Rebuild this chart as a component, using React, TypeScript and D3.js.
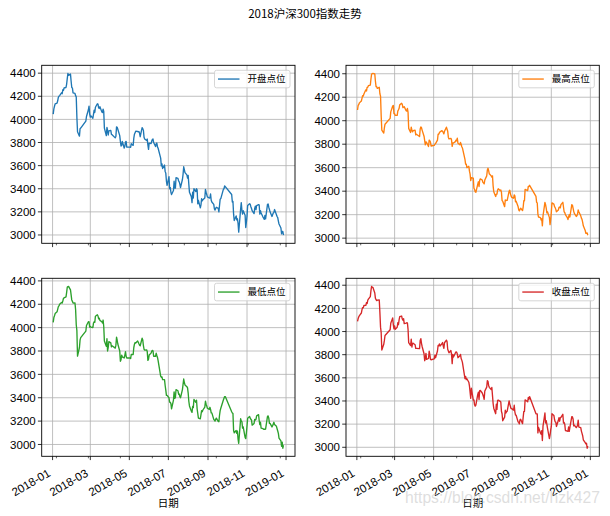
import React from 'react';
import * as d3 from 'd3';

// Weekdays on which the Shanghai/Shenzhen exchanges were closed in 2018
const closedWeekdays = [
  '2018-01-01', '2018-02-15', '2018-02-16', '2018-02-19', '2018-02-20', '2018-02-21',
  '2018-04-05', '2018-04-06', '2018-04-30', '2018-05-01', '2018-06-18', '2018-09-24',
  '2018-10-01', '2018-10-02', '2018-10-03', '2018-10-04', '2018-10-05', '2018-12-31',
];

// 开盘点位 (one value per trading day, Jan..Dec)
const openVals = [
  4045, 4091, 4114, 4134, 4141, 4161, 4190, 4200, 4206, 4230, 4222, 4256, 4252, 4272, 4276, 4306, 4355, 4398, 4381, 4392, 4330, 4276,
  4272, 4230, 4225, 4205, 4195, 4018, 3893, 3855, 3920, 3925, 3985, 4025, 4083, 4115, 4045,
  4020, 4030, 4010, 4045, 4080, 4060, 4105, 4135, 4132, 4100, 4095, 4110, 4065, 4060, 4088, 4068, 3925, 3860, 3930, 3905, 3865, 3900,
  3905, 3870, 3868, 3840, 3855, 3935, 3932, 3915, 3860, 3810, 3770, 3775, 3810, 3752, 3768, 3805, 3810, 3760,
  3760, 3758, 3790, 3775, 3838, 3872, 3885, 3898, 3895, 3892, 3895, 3880, 3850, 3928, 3920, 3905, 3845, 3830, 3818, 3830, 3780, 3740,
  3795, 3790, 3812, 3825, 3830, 3800, 3765, 3790, 3795, 3762, 3750, 3665, 3598, 3615, 3575, 3605, 3550, 3535, 3465, 3430,
  3505, 3400, 3410, 3370, 3350, 3385, 3465, 3405, 3405, 3495, 3490, 3468, 3460, 3440, 3410, 3480, 3525, 3590, 3565, 3540, 3520, 3492,
  3515, 3440, 3370, 3330, 3280, 3370, 3320, 3400, 3375, 3400, 3390, 3270, 3300, 3235, 3260, 3315, 3295, 3305, 3320, 3395, 3370, 3350, 3330,
  3320, 3322, 3355, 3300, 3285, 3265, 3225, 3215, 3230, 3240, 3230, 3200, 3255, 3310, 3315, 3395, 3400, 3425, 3418,
  3350, 3285, 3290, 3180, 3125, 3165, 3130, 3140, 3100, 3025, 3225, 3280, 3215, 3180, 3210, 3170, 3065, 3110,
  3165, 3255, 3270, 3265, 3245, 3230, 3210, 3185, 3230, 3250, 3220, 3255, 3262, 3260, 3180, 3210, 3190, 3155, 3145, 3135, 3170, 3140,
  3265, 3268, 3240, 3220, 3200, 3160, 3175, 3190, 3195, 3220, 3175, 3160, 3150, 3120, 3095, 3060, 3010, 3030, 3030, 2998,
];

// 最高点位
const highVals = [
  4091, 4131, 4138, 4152, 4168, 4190, 4213, 4210, 4227, 4263, 4253, 4283, 4284, 4298, 4303, 4355, 4397, 4400, 4403, 4398, 4336, 4290,
  4290, 4275, 4285, 4230, 4210, 4043, 3920, 3895, 3940, 3970, 4020, 4075, 4125, 4130, 4060,
  4060, 4045, 4045, 4082, 4093, 4105, 4135, 4148, 4140, 4112, 4115, 4120, 4085, 4082, 4105, 4072, 3935, 3900, 3945, 3920, 3905, 3915,
  3920, 3880, 3885, 3865, 3930, 3947, 3940, 3920, 3868, 3830, 3795, 3820, 3815, 3780, 3835, 3830, 3818, 3785,
  3790, 3800, 3805, 3835, 3885, 3885, 3898, 3905, 3915, 3910, 3900, 3888, 3910, 3945, 3928, 3910, 3860, 3845, 3850, 3835, 3782, 3810,
  3810, 3822, 3835, 3830, 3852, 3808, 3795, 3815, 3800, 3778, 3768, 3670, 3630, 3630, 3600, 3612, 3570, 3545, 3490, 3515,
  3510, 3425, 3415, 3395, 3390, 3460, 3480, 3440, 3492, 3505, 3495, 3475, 3470, 3462, 3495, 3530, 3580, 3595, 3575, 3548, 3530, 3520,
  3530, 3445, 3395, 3355, 3375, 3375, 3410, 3420, 3405, 3410, 3392, 3320, 3315, 3268, 3325, 3320, 3322, 3322, 3400, 3408, 3378, 3360, 3348,
  3340, 3368, 3360, 3310, 3315, 3270, 3240, 3232, 3245, 3255, 3235, 3265, 3320, 3318, 3415, 3405, 3440, 3440, 3450,
  3355, 3305, 3300, 3205, 3180, 3175, 3155, 3165, 3105, 3190, 3305, 3285, 3255, 3215, 3225, 3175, 3115, 3160,
  3220, 3300, 3290, 3268, 3260, 3245, 3225, 3240, 3262, 3265, 3258, 3285, 3305, 3265, 3225, 3218, 3200, 3175, 3158, 3180, 3200, 3180,
  3285, 3280, 3255, 3228, 3210, 3185, 3190, 3205, 3240, 3225, 3190, 3170, 3160, 3135, 3105, 3065, 3040, 3040, 3045, 3025,
];

// 最低点位
const lowVals = [
  4045, 4086, 4102, 4120, 4135, 4157, 4180, 4186, 4200, 4215, 4210, 4228, 4250, 4255, 4263, 4302, 4348, 4351, 4353, 4323, 4281, 4237,
  4225, 4210, 4212, 4155, 4025, 3975, 3756, 3830, 3895, 3915, 3970, 4018, 4050, 4050, 4005,
  4010, 4005, 4000, 4040, 4050, 4045, 4098, 4110, 4100, 4075, 4080, 4062, 4050, 4040, 4065, 4010, 3885, 3840, 3905, 3800, 3830, 3880,
  3870, 3835, 3845, 3825, 3850, 3918, 3892, 3860, 3800, 3712, 3725, 3765, 3750, 3740, 3765, 3795, 3755, 3740,
  3740, 3735, 3770, 3770, 3830, 3858, 3872, 3868, 3885, 3875, 3862, 3850, 3845, 3910, 3895, 3845, 3815, 3808, 3810, 3795, 3720, 3730,
  3765, 3782, 3798, 3805, 3802, 3755, 3755, 3782, 3762, 3745, 3718, 3585, 3575, 3578, 3555, 3555, 3505, 3465, 3420, 3420,
  3400, 3363, 3360, 3350, 3305, 3380, 3450, 3395, 3400, 3470, 3460, 3430, 3432, 3410, 3400, 3470, 3515, 3560, 3530, 3510, 3495, 3485,
  3440, 3370, 3330, 3285, 3275, 3325, 3315, 3385, 3360, 3380, 3305, 3265, 3225, 3220, 3255, 3290, 3280, 3295, 3320, 3370, 3345, 3330, 3310,
  3300, 3318, 3300, 3270, 3270, 3215, 3208, 3200, 3215, 3225, 3198, 3195, 3250, 3290, 3310, 3380, 3395, 3410, 3410,
  3280, 3270, 3265, 3120, 3100, 3120, 3095, 3115, 3045, 3010, 3220, 3200, 3195, 3140, 3150, 3060, 3050, 3100,
  3160, 3225, 3240, 3225, 3215, 3210, 3165, 3180, 3215, 3210, 3215, 3245, 3255, 3205, 3170, 3190, 3140, 3135, 3130, 3130, 3130, 3132,
  3240, 3245, 3225, 3180, 3180, 3150, 3160, 3175, 3190, 3170, 3155, 3135, 3115, 3095, 3055, 3030, 2985, 3020, 2968, 2995,
];

// 收盘点位
const closeVals = [
  4087, 4112, 4128, 4138, 4160, 4189, 4207, 4205, 4225, 4226, 4250, 4242, 4270, 4280, 4302, 4353, 4390, 4381, 4382, 4333, 4287, 4275,
  4267, 4271, 4273, 4163, 4038, 3990, 3840, 3890, 3923, 3966, 4016, 4071, 4118, 4058, 4023,
  4049, 4019, 4037, 4076, 4059, 4100, 4128, 4134, 4108, 4098, 4111, 4069, 4073, 4076, 4075, 4020, 3904, 3879, 3934, 3866, 3898, 3899,
  3886, 3854, 3854, 3852, 3923, 3938, 3898, 3871, 3808, 3748, 3766, 3811, 3760, 3767, 3830, 3805, 3761, 3756,
  3763, 3795, 3774, 3832, 3879, 3877, 3893, 3875, 3894, 3905, 3875, 3855, 3903, 3926, 3912, 3847, 3831, 3816, 3836, 3805, 3723, 3802,
  3780, 3815, 3824, 3822, 3806, 3774, 3791, 3802, 3767, 3753, 3734, 3593, 3613, 3584, 3592, 3562, 3530, 3476, 3423, 3510,
  3407, 3409, 3367, 3356, 3365, 3457, 3476, 3413, 3490, 3492, 3469, 3454, 3437, 3415, 3486, 3520, 3576, 3569, 3534, 3518, 3499, 3517,
  3448, 3378, 3338, 3290, 3372, 3327, 3405, 3407, 3397, 3391, 3311, 3290, 3229, 3261, 3320, 3296, 3307, 3312, 3400, 3373, 3354, 3334, 3334,
  3321, 3363, 3306, 3278, 3277, 3219, 3216, 3202, 3238, 3242, 3204, 3260, 3310, 3310, 3410, 3393, 3430, 3415, 3438,
  3290, 3289, 3288, 3124, 3171, 3124, 3113, 3143, 3059, 3183, 3296, 3210, 3230, 3200, 3165, 3075, 3105, 3150,
  3180, 3290, 3275, 3240, 3220, 3218, 3180, 3233, 3255, 3225, 3255, 3258, 3285, 3210, 3215, 3200, 3145, 3140, 3138, 3175, 3137, 3172,
  3265, 3262, 3245, 3185, 3190, 3170, 3178, 3190, 3235, 3175, 3170, 3140, 3120, 3100, 3065, 3040, 3030, 3035, 2992, 3011,
];

const seriesNames = ['开盘点位', '最高点位', '最低点位', '收盘点位'];
const seriesColors = ['#1f77b4', '#ff7f0e', '#2ca02c', '#d62728'];
const yTickValues = [3000, 3200, 3400, 3600, 3800, 4000, 4200, 4400];
const minorTickDates = ['2018-01-07', '2018-02-26', '2018-04-17', '2018-06-06', '2018-07-26', '2018-09-14', '2018-11-03', '2018-12-23'];
const titleText = '2018沪深300指数走势';
const xLabelText = '日期';
const watermarkText = 'https://blog.csdn.net/hzk427';

const W = 610;
const H = 516;
const COL_X = [41.7, 346];
const ROW_Y = [65.3, 278.3];
const PW = 253.3;
const PH = 178;

const fmtKey = d3.timeFormat('%Y-%m-%d');
const parseKey = d3.timeParse('%Y-%m-%d');
const closedSet = new Set(closedWeekdays);
const dates: Date[] = d3.timeDay
  .range(new Date(2018, 0, 1), new Date(2019, 0, 1))
  .filter((d) => d.getDay() !== 0 && d.getDay() !== 6 && !closedSet.has(fmtKey(d)));

const FONT = '"Liberation Sans", "Noto Sans CJK SC", sans-serif';
const CJK = '"Noto Sans CJK SC", "Liberation Sans", sans-serif';

function Panel({ values, name, color, left, top, bottomRow }: any) {
  const t0 = dates[0].getTime();
  const t1 = dates[dates.length - 1].getTime();
  const span = t1 - t0;
  const x = d3.scaleTime().domain([new Date(t0 - 0.05 * span), new Date(t1 + 0.05 * span)]).range([left, left + PW]);
  const [vmin, vmax] = d3.extent(values as number[]) as [number, number];
  const pad = 0.05 * (vmax - vmin);
  const y = d3.scaleLinear().domain([vmin - pad, vmax + pad]).range([top + PH, top]);
  const line = d3
    .line<number>()
    .x((_, i) => x(dates[i]))
    .y((v) => y(v));
  const xTicks = x.ticks(d3.timeMonth.every(2) as any);
  const minor = minorTickDates.map((s) => parseKey(s) as Date);
  const fmt = d3.timeFormat('%Y-%m');
  const bottom = top + PH;
  const lgW = 75.5;
  const lgH = 17.5;
  const lgX = left + PW - 5 - lgW;
  const lgY = top + 5;
  const clipId = 'clip-' + name;
  return (
    <g>
      <defs>
        <clipPath id={clipId}>
          <rect x={left} y={top} width={PW} height={PH} />
        </clipPath>
      </defs>
      {xTicks.map((t, i) => (
        <line key={'gx' + i} x1={x(t)} x2={x(t)} y1={top} y2={bottom} stroke="#b0b0b0" strokeWidth={0.8} />
      ))}
      {yTickValues.map((v, i) => (
        <line key={'gy' + i} x1={left} x2={left + PW} y1={y(v)} y2={y(v)} stroke="#b0b0b0" strokeWidth={0.8} />
      ))}
      <path d={line(values) || ''} fill="none" stroke={color} strokeWidth={1.35} strokeLinejoin="round" clipPath={`url(#${clipId})`} />
      <rect x={left} y={top} width={PW} height={PH} fill="none" stroke="#000" strokeWidth={0.9} />
      {yTickValues.map((v, i) => (
        <g key={'yt' + i}>
          <line x1={left - 3.8} x2={left} y1={y(v)} y2={y(v)} stroke="#000" strokeWidth={0.8} />
          <text x={left - 6} y={y(v)} dy="0.36em" textAnchor="end" fontSize={11.5} fontFamily={FONT} fill="#000">
            {v}
          </text>
        </g>
      ))}
      {xTicks.map((t, i) => (
        <line key={'xt' + i} x1={x(t)} x2={x(t)} y1={bottom} y2={bottom + 3.8} stroke="#000" strokeWidth={0.8} />
      ))}
      {minor.map((t, i) => (
        <line key={'xm' + i} x1={x(t)} x2={x(t)} y1={bottom} y2={bottom + 2} stroke="#000" strokeWidth={0.6} />
      ))}
      {bottomRow &&
        xTicks.map((t, i) => (
          <text
            key={'xl' + i}
            transform={`translate(${x(t) - 5.5},${bottom + 12}) rotate(-30)`}
            dy="0.72em"
            textAnchor="end"
            fontSize={11.5}
            fontFamily={FONT}
            fill="#000"
          >
            {fmt(t)}
          </text>
        ))}
      {bottomRow && (
        <text x={left + PW / 2} y={bottom + 51} textAnchor="middle" fontSize={10.5} fontFamily={CJK} fill="#000">
          {xLabelText}
        </text>
      )}
      <rect x={lgX} y={lgY} width={lgW} height={lgH} rx={2} ry={2} fill="#fff" fillOpacity={0.8} stroke="#cccccc" strokeWidth={0.8} />
      <line x1={lgX + 3.5} x2={lgX + 25} y1={lgY + lgH / 2} y2={lgY + lgH / 2} stroke={color} strokeWidth={1.35} />
      <text x={lgX + 33} y={lgY + lgH / 2} dy="0.36em" fontSize={9.5} fontFamily={CJK} fill="#000">
        {name}
      </text>
    </g>
  );
}

export default function App() {
  const all = [openVals, highVals, lowVals, closeVals];
  return (
    <svg width={W} height={H} style={{ position: 'absolute', left: 0, top: 0, background: '#fff' }}>
      <rect x={0} y={0} width={W} height={H} fill="#fff" />
      <text x={W / 2} y={18} textAnchor="middle" fontSize={11.5} fontFamily={CJK} fill="#000">
        {titleText}
      </text>
      {all.map((vals, i) => (
        <Panel
          key={i}
          values={vals}
          name={seriesNames[i]}
          color={seriesColors[i]}
          left={COL_X[i % 2]}
          top={ROW_Y[Math.floor(i / 2)]}
          bottomRow={i >= 2}
        />
      ))}
      <text
        x={405}
        y={503}
        fontSize={16}
        fontFamily={FONT}
        fill="#c8c8c8"
        fillOpacity={0.6}
        textLength={195}
        lengthAdjust="spacingAndGlyphs"
      >
        {watermarkText}
      </text>
    </svg>
  );
}
